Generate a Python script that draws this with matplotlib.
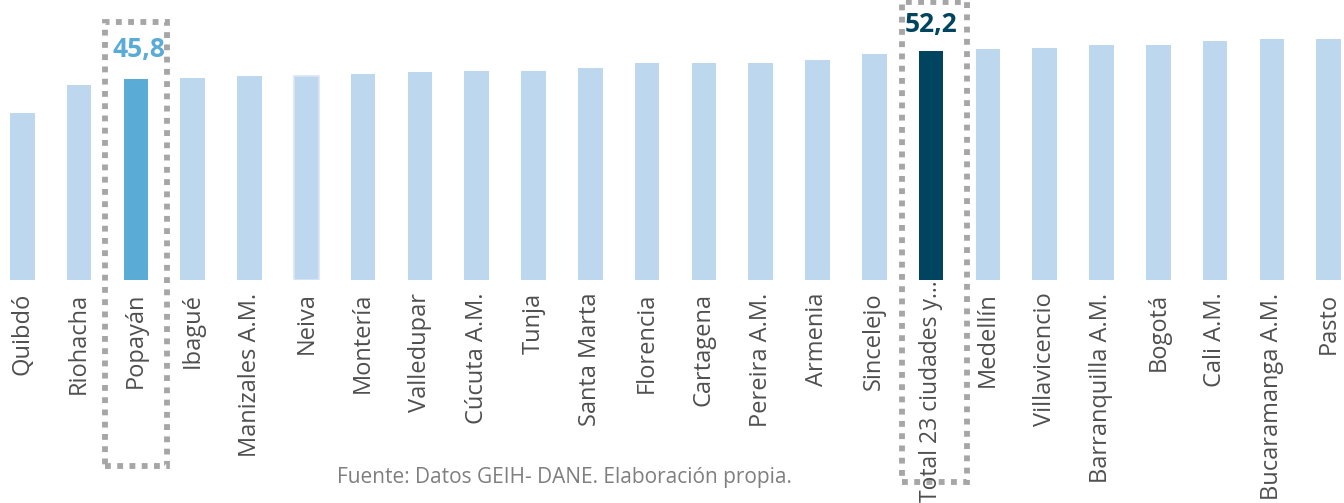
import matplotlib
matplotlib.use("Agg")
import matplotlib.pyplot as plt
from matplotlib.patches import Rectangle
import matplotlib.transforms as mtransforms

categories = ["Quibdó", "Riohacha", "Popayán", "Ibagué", "Manizales A.M.", "Neiva",
              "Montería", "Valledupar", "Cúcuta A.M.", "Tunja", "Santa Marta", "Florencia",
              "Cartagena", "Pereira A.M.", "Armenia", "Sincelejo", "Total 23 ciudades y…",
              "Medellín", "Villavicencio", "Barranquilla A.M.", "Bogotá", "Cali A.M.",
              "Bucaramanga A.M.", "Pasto"]
values = [38.0, 44.4, 45.8, 46.1, 46.5, 46.5, 47.0, 47.5, 47.6, 47.6, 48.3, 49.4,
          49.4, 49.4, 50.1, 51.4, 52.2, 52.6, 52.8, 53.5, 53.5, 54.4, 54.9, 54.9]
highlight_local = "Popayán"
highlight_total = "Total 23 ciudades y…"
label_local = "45,8"
label_total = "52,2"
source = "Fuente: Datos GEIH- DANE. Elaboración propia."

plt.rcParams['font.family'] = ['Open Sans', 'DejaVu Sans']

W, H = 1344, 503
fig = plt.figure(figsize=(W / 100, H / 100), dpi=100)
base_px = 280
ax = fig.add_axes([0, (H - base_px) / H, 1, base_px / H])

light = "#BDD7EE"
mid = "#5BABD7"
dark = "#00445F"
colors = []
for c in categories:
    if c == highlight_local:
        colors.append(mid)
    elif c == highlight_total:
        colors.append(dark)
    else:
        colors.append(light)

x = list(range(len(categories)))
bars = ax.bar(x, values, width=0.435, color=colors)
bars[categories.index("Neiva")].set_edgecolor("#D9E6F5")
bars[categories.index("Neiva")].set_linewidth(1.2)

ax.set_xlim(-0.393, 23.27)
ax.set_ylim(0, 63.8)
ax.set_xticks(x)
ax.set_xticklabels(categories, rotation=90, fontsize=17, color="#4F4F4F")
ax.tick_params(axis='x', length=0, pad=9)
ax.set_yticks([])
for s in ax.spines.values():
    s.set_visible(False)

il = categories.index(highlight_local)
it = categories.index(highlight_total)

# the long total label sits higher, right under the axis
tl = ax.get_xticklabels()[it]
tl.set_fontsize(16.5)
tl.set_transform(tl.get_transform() + mtransforms.ScaledTranslation(0, 12 / 100, fig.dpi_scale_trans))

ax.text(il + 0.05, values[il] + 6.8, label_local, ha='center', va='center',
        fontsize=19, fontweight='bold', color=mid)
ax.text(it, values[it] + 6.1, label_total, ha='center', va='center',
        fontsize=19, fontweight='bold', color=dark)

box_kw = dict(fill=False, edgecolor="#A6A6A6", linewidth=4.2,
              linestyle=(0, (1, 1.1)), clip_on=False)
# Popayán box
ax.add_patch(Rectangle((il - 0.537, -42.3), 0.537 + 0.549, 58.7 + 42.3, **box_kw))
# Total box
ax.add_patch(Rectangle((it - 0.516, -46.1), 0.516 + 0.641, 63.3 + 46.1, **box_kw))

fig.text(564 / W, 1 - 478 / H, source, ha='center', va='center',
         fontsize=15, color="#7F7F7F")

fig.savefig("out.png", dpi=100)
